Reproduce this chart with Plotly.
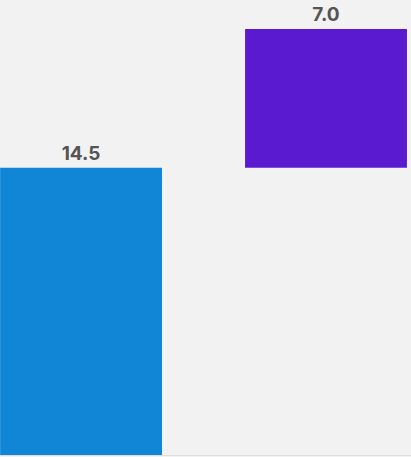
import plotly.graph_objects as go
import numpy as np

categories = ["A", "B"]
values = [14.5, 7.0]
colors = ["#1286d6", "#5a1ad0"]
labels = ["14.5", "7.0"]

bases = list(np.concatenate([[0], np.cumsum(values)[:-1]]))

fig = go.Figure(go.Bar(
    x=categories,
    y=values,
    base=bases,
    marker=dict(color=colors, line=dict(width=0)),
    text=labels,
    textposition="outside",
    cliponaxis=False,
    textfont=dict(family="Inter", size=19, color="#555555", weight="bold"),
    width=0.661,
    hoverinfo="skip",
))

fig.update_layout(
    width=411, height=457,
    margin=dict(l=0, r=0, t=0, b=2),
    paper_bgcolor="#f2f2f2",
    plot_bgcolor="#f2f2f2",
    showlegend=False,
    xaxis=dict(range=[-0.331, 1.347], showticklabels=False, showgrid=False,
               zeroline=False, showline=True, linecolor="#dddddd", linewidth=1, ticks=""),
    yaxis=dict(range=[0, 22.97], showticklabels=False, showgrid=False, zeroline=False),
)

fig.write_html("out.html", config={"displayModeBar": False},
               post_script="document.body.style.margin='0';document.body.style.background='#f2f2f2';")
